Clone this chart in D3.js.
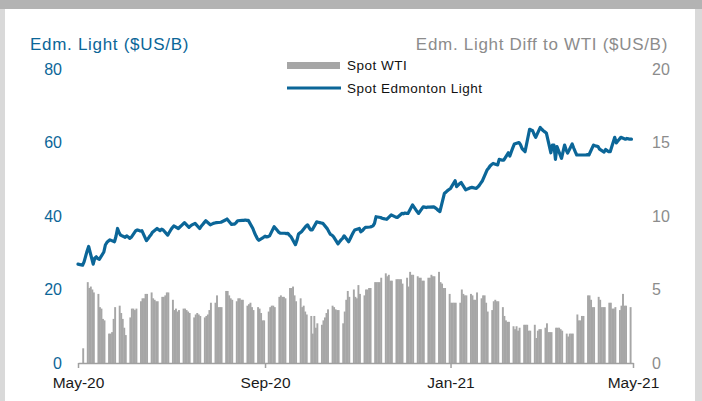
<!DOCTYPE html>
<html>
<head>
<meta charset="utf-8">
<script src="https://cdn.jsdelivr.net/npm/d3@7"></script>
<style>
  body { margin: 0; background: #fff; }
  svg text { font-family: "Liberation Sans", Arial, sans-serif; }
</style>
</head>
<body>
<div id="chart"></div>
<script>
// series names and axis labels
var seriesNames = ["Spot WTI", "Spot Edmonton Light"];
var leftTitle = "Edm. Light ($US/B)";
var rightTitle = "Edm. Light Diff to WTI ($US/B)";
var tickDates = ["2020-05-01", "2020-09-01", "2021-01-01", "2021-05-01"];
var tickLabels = ["May-20", "Sep-20", "Jan-21", "May-21"];
var leftTicks = [0, 20, 40, 60, 80];
var rightTicks = [0, 5, 10, 15, 20];
var firstDay = "2020-05-01";

// Spot Edmonton Light, $US/B, one row per trading week (first row = Fri May 1)
var edmLight = [
  26.9,
  26.6, 27.5, 29.0, 30.5, 31.7,
  26.9, 28.5, 28.9, 28.4, 28.2,
  30.2, 32.1, 32.8, 33.2, 33.5,
  33.0, 34.5, 36.6, 35.5, 34.8,
  34.2, 34.6, 34.3, 33.9, 34.2,
  36.0, 36.2, 36.1, 35.9, 36.0,
  33.3, 33.8, 34.4, 34.9, 35.6,
  36.6, 36.3, 36.0, 36.4, 36.2,
  34.8, 35.5, 36.2, 36.8, 37.3,
  36.6, 37.0, 37.4, 37.8, 38.2,
  36.9, 37.3, 37.6, 37.8, 38.0,
  36.6, 37.2, 37.7, 38.2, 38.7,
  37.6, 37.8, 38.0, 38.1, 38.2,
  38.3, 38.5, 38.7, 38.9, 39.2,
  37.7, 37.8, 37.8, 38.2, 38.7,
  38.8, 38.8, 38.9, 38.8, 38.8,
  36.6, 35.5, 34.6, 33.8, 33.4,
  34.2, 34.5, 34.3, 34.4, 34.6,
  37.1, 36.6, 36.1, 35.6, 35.3,
  35.3, 35.2, 35.3, 34.8, 34.4,
  32.2, 33.4, 35.1, 35.4, 35.7,
  37.3, 37.6, 36.8, 36.2, 36.2,
  38.4, 38.3, 38.2, 38.1, 38.0,
  36.5, 35.7, 35.0, 34.8, 34.4,
  32.4, 33.0, 33.5, 33.9, 34.6,
  33.0, 33.8, 34.7, 35.5, 36.2,
  36.6, 35.7, 36.0, 36.5, 36.9,
  37.0, 37.1, 37.3, 38.0, 39.8,
  39.6, 39.4, 39.3, 39.2, 39.1,
  40.3, 40.1, 39.9, 39.7, 39.6,
  40.7, 40.6, 40.8, 40.7, 40.7,
  43.0, 42.4, 41.8, 41.2, 40.7,
  42.5, 42.4, 42.3, 42.4, 42.4,
  42.5, 42.2, 41.9, 41.5, 41.2,
  46.2, 46.5, 46.9, 47.2, 47.5,
  49.6, 48.0, 48.4, 48.8, 49.1,
  47.1, 47.3, 47.5, 47.7, 47.8,
  47.5, 47.9, 48.4, 49.0, 49.6,
  52.5, 53.0, 53.6, 54.0, 54.3,
  53.9, 55.4, 55.3, 55.2, 55.2,
  57.2, 56.3, 57.5, 58.6, 59.6,
  60.0, 59.4, 58.4, 57.9, 57.5,
  63.6, 63.4, 63.2, 62.2, 61.4,
  64.1, 63.6, 63.2, 62.9, 62.6,
  57.2, 59.3, 59.3, 55.4, 58.9,
  55.7, 57.5, 59.3, 58.0, 57.1,
  59.6, 58.5, 57.5, 56.6, 56.6,
  56.6, 56.6, 56.6, 56.7, 56.6,
  59.3, 59.1, 59.0, 58.9, 58.2,
  57.4, 58.1, 57.8, 57.5, 57.5,
  61.4, 59.9, 60.4, 60.9, 61.4,
  60.9, 61.1, 61.0, 60.9, 60.9
];

// Edm. Light diff to WTI, $US/B (bars), same weekly layout, ends Mon Apr 26
var wtiDiff = [
  1.0,
  5.5, 5.1, 5.2, 5.0, 4.8,
  4.7, 3.8, 3.7, 3.0, 2.9,
  2.0, 2.0, 2.1, 3.0, 3.8,
  3.9, 3.4, 3.0, 2.4, 1.9,
  3.1, 3.7, 3.7, 3.6, 3.7,
  4.2, 4.4, 4.4, 4.7, 4.7,
  4.8, 4.4, 4.3, 4.2, 4.2,
  4.5, 4.5, 4.6, 4.8, 4.8,
  4.3, 3.6, 3.7, 3.5, 3.6,
  3.7, 3.7, 3.6, 3.5, 3.4,
  3.1, 3.3, 3.4, 3.3, 3.2,
  3.1, 3.2, 3.3, 3.6, 4.1,
  4.1, 4.6, 3.8, 3.8, 3.8,
  4.9, 4.9, 4.6, 4.4, 4.3,
  4.2, 4.4, 4.4, 4.3, 4.3,
  3.9, 4.0, 4.1, 3.8, 3.6,
  3.8, 3.7, 3.4, 2.9, 2.9,
  3.5, 3.8, 3.9, 3.9, 3.8,
  4.5, 4.6, 4.5, 4.5, 4.4,
  5.1, 5.1, 5.2, 4.6, 4.2,
  4.4, 3.8, 3.9, 3.5, 3.3,
  3.2, 2.0, 3.2, 2.4, 2.7,
  2.6, 2.9, 3.1, 3.4, 3.65,
  3.9, 3.8, 3.65, 3.6, 3.6,
  2.7, 3.5, 4.3, 4.9, 4.5,
  5.0, 4.5, 4.4, 5.3, 4.7,
  4.6, 5.0, 5.0, 5.1, 5.1,
  5.5, 5.5, 5.5, 5.5, 5.8,
  6.1, 5.9, 6.0, 5.6, 5.6,
  5.7, 5.7, 5.7, 5.7, 5.4,
  5.8, 5.2, 6.2, 6.0, 6.0,
  5.9, 5.8, 5.8, 5.6, 5.6,
  5.8, 5.8, 6.0, 5.9, 5.9,
  6.2, 5.5, 5.4, 5.1, 5.1,
  4.7, 4.1, 4.1, 4.1, 4.1,
  4.1, 5.0, 4.7, 4.6, 4.6,
  4.7, 4.6, 4.3, 4.3, 4.8,
  4.4, 4.6, 4.6, 4.1, 3.5,
  3.6, 4.2, 4.3, 4.2, 4.2,
  3.8, 3.2, 2.9, 2.8, 2.8,
  2.5, 2.3, 2.5, 2.2, 2.4,
  2.6, 2.6, 2.6, 2.2, 2.2,
  2.6, 1.7, 2.2, 2.3, 2.3,
  2.4, 2.7, 2.1, 2.1, 2.1,
  2.4, 2.4, 2.4, 2.3, 2.2,
  2.0, 1.8, 2.0, 2.0, 2.0,
  3.3, 2.9, 2.9, 3.2, 3.2,
  4.6, 4.6, 4.3, 3.8, 3.8,
  4.5, 4.3, 3.8, 3.8, 3.8,
  4.1, 4.1, 3.7, 3.7, 3.8,
  3.6, 3.9, 4.7, 3.9, 3.9,
  3.8
];

var width = 702, height = 401;
var plotL = 78, plotR = 633, plotT = 69, plotB = 363;
var blue = "#0b6698", gray = "#a6a6a6";
var barShift = 5; // bars sit a few px right of the date tick in the original

var parse = d3.timeParse("%Y-%m-%d");

// trading days (Mon-Fri) starting May 1 2020
function tradingDays(n) {
  var out = [], d = parse(firstDay);
  while (out.length < n) {
    var wd = d.getDay();
    if (wd !== 0 && wd !== 6) out.push(new Date(d));
    d = d3.timeDay.offset(d, 1);
  }
  return out;
}
var days = tradingDays(Math.max(edmLight.length, wtiDiff.length));
var lineData = edmLight.map(function(v, i) { return {date: days[i], value: v}; });
var barData = wtiDiff.map(function(v, i) { return {date: days[i], value: v}; });

var svg = d3.select("#chart").append("svg")
  .attr("width", width).attr("height", height);

// frame
svg.append("rect").attr("x", 0).attr("y", 0).attr("width", width).attr("height", height).attr("fill", "#fff");
svg.append("rect").attr("x", 0).attr("y", 0).attr("width", 5).attr("height", height).attr("fill", "#d9d9d9");
svg.append("rect").attr("x", 695).attr("y", 0).attr("width", 7).attr("height", height).attr("fill", "#d9d9d9");
svg.append("rect").attr("x", 0).attr("y", 0).attr("width", width).attr("height", 9).attr("fill", "#b3b3b3");

var x = d3.scaleTime()
  .domain([parse(tickDates[0]), parse(tickDates[tickDates.length - 1])])
  .range([plotL, plotR]);
var yL = d3.scaleLinear().domain([0, 80]).range([plotB, plotT]);
var yR = d3.scaleLinear().domain([0, 20]).range([plotB, plotT]);
var dayW = x(d3.timeDay.offset(x.domain()[0], 1)) - x(x.domain()[0]);

// bars (a touch wider than a day so a trading week reads as one block)
svg.append("g").selectAll("rect").data(barData).enter().append("rect")
  .attr("x", function(d) { return x(d.date) + barShift - dayW / 2; })
  .attr("y", function(d) { return yR(d.value); })
  .attr("width", dayW + 0.4)
  .attr("height", function(d) { return yR(0) - yR(d.value); })
  .attr("fill", gray);

// x axis
var xAxis = d3.axisBottom(x)
  .tickValues(tickDates.map(parse))
  .tickFormat(function(d, i) { return tickLabels[i]; })
  .tickSize(5).tickPadding(9).tickSizeOuter(0);
var gx = svg.append("g").attr("transform", "translate(0," + plotB + ")").call(xAxis);
gx.select(".domain").attr("stroke", "#a0a0a0").attr("stroke-width", 1.5);
gx.selectAll(".tick line").attr("stroke", "#a0a0a0").attr("stroke-width", 1.5);
gx.selectAll(".tick text").attr("fill", "#1a1a1a").attr("font-size", "15.5px")
  .attr("font-family", "Liberation Sans, Arial, sans-serif");

// left axis
var gl = svg.append("g").attr("transform", "translate(" + (plotL - 16) + ",0)")
  .call(d3.axisLeft(yL).tickValues(leftTicks).tickSize(0).tickPadding(0));
gl.select(".domain").remove();
gl.selectAll(".tick text").attr("fill", blue).attr("font-size", "16px")
  .attr("font-family", "Liberation Sans, Arial, sans-serif");

// right axis
var gr = svg.append("g").attr("transform", "translate(" + (plotR + 19) + ",0)")
  .call(d3.axisRight(yR).tickValues(rightTicks).tickSize(0).tickPadding(0));
gr.select(".domain").remove();
gr.selectAll(".tick text").attr("fill", "#8c8c8c").attr("font-size", "16px")
  .attr("font-family", "Liberation Sans, Arial, sans-serif");

// line
var line = d3.line()
  .x(function(d) { return x(d.date); })
  .y(function(d) { return yL(d.value); });
svg.append("path").datum(lineData)
  .attr("d", line)
  .attr("fill", "none").attr("stroke", blue)
  .attr("stroke-width", 3.2).attr("stroke-linejoin", "round").attr("stroke-linecap", "round");

// titles
svg.append("text").text(leftTitle)
  .attr("x", 30).attr("y", 50)
  .attr("font-size", "17px").attr("letter-spacing", "0.7px").attr("fill", blue);
svg.append("text").text(rightTitle)
  .attr("x", 668).attr("y", 50).attr("text-anchor", "end")
  .attr("font-size", "17px").attr("letter-spacing", "0.7px").attr("fill", "#8c8c8c");

// legend
var lg = svg.append("g").attr("transform", "translate(287,0)");
lg.append("rect").attr("x", 0).attr("y", 62).attr("width", 53).attr("height", 7).attr("fill", gray);
lg.append("line").attr("x1", 0).attr("x2", 54).attr("y1", 88).attr("y2", 88)
  .attr("stroke", blue).attr("stroke-width", 3);
lg.selectAll("text.lab").data(seriesNames).enter().append("text")
  .attr("class", "lab")
  .text(function(d) { return d; })
  .attr("x", 60)
  .attr("y", function(d, i) { return i === 0 ? 70 : 93; })
  .attr("font-size", "13.5px").attr("letter-spacing", "0.5px").attr("fill", "#111");
</script>
</body>
</html>
